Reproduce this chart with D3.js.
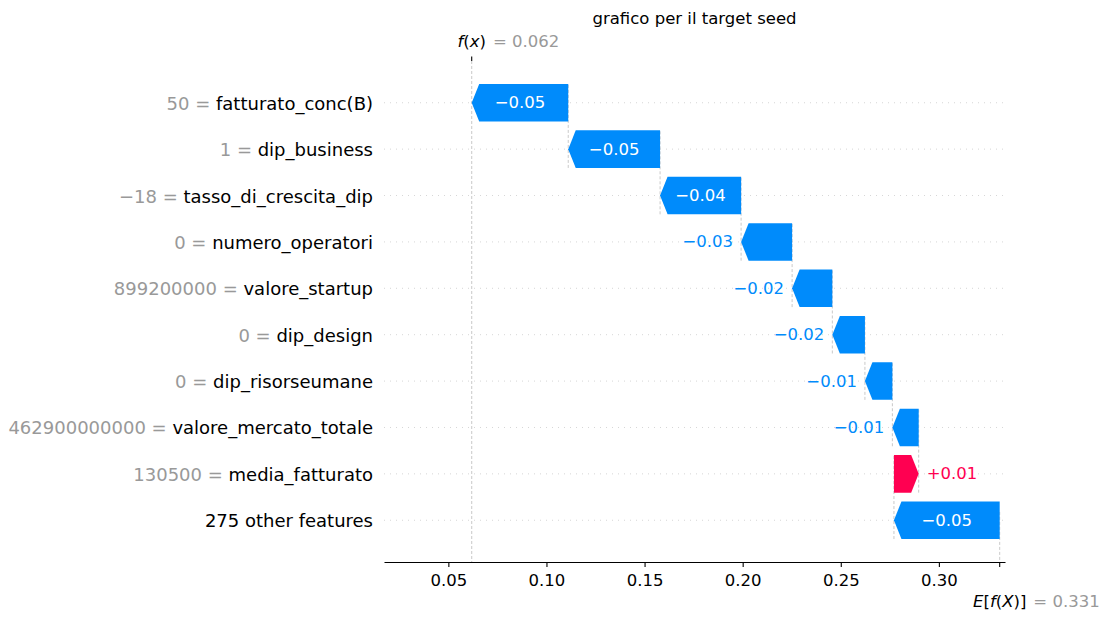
<!DOCTYPE html>
<html>
<head>
<meta charset="utf-8">
<script src="https://d3js.org/d3.v7.min.js"></script>
<style>
body { margin: 0; background: #fff; }
text { font-family: "DejaVu Sans", sans-serif; }
</style>
</head>
<body>
<svg id="chart" width="1107" height="622"></svg>
<script>
// waterfall data, top row first
var featureNames = ["fatturato_conc(B)", "dip_business", "tasso_di_crescita_dip", "numero_operatori",
  "valore_startup", "dip_design", "dip_risorseumane", "valore_mercato_totale", "media_fatturato", "275 other features"];
var featureValues = ["50", "1", "\u221218", "0", "899200000", "0", "0", "462900000000", "130500", ""];
var shapValues = [-0.0492, -0.0468, -0.0413, -0.0260, -0.0205, -0.0166, -0.0140, -0.0134, 0.0126, -0.0539];
var baseValue = 0.331;
var xTicks = [0.05, 0.10, 0.15, 0.20, 0.25, 0.30];
var chartTitle = "grafico per il target seed";

var blue = "#008bfb", red = "#ff0051", grey = "#999999";

var svg = d3.select("#chart");
var n = featureNames.length;

// x limits of the axis as matplotlib left them
var x = d3.scaleLinear().domain([0.0172, 0.3337]).range([384, 1005]);
var y = d3.scaleLinear().domain([-0.9, n - 0.1]).range([61, 562]);
var step = y(1) - y(0);
var barH = step * 0.81;
var axisTop = y(-0.9), axisBottom = y(n - 0.1);

// running totals, from the base value at the bottom upward
var starts = new Array(n), ends = new Array(n);
var run = baseValue;
for (var i = n - 1; i >= 0; i--) {
  starts[i] = run;
  run = run + shapValues[i];
  ends[i] = run;
}
var fx = run;

// dotted row lines
for (var i = 0; i < n; i++) {
  svg.append("line")
    .attr("x1", x.range()[0]).attr("x2", x.range()[1])
    .attr("y1", y(i)).attr("y2", y(i))
    .attr("stroke", "#cccccc").attr("stroke-width", 0.8)
    .attr("stroke-dasharray", "1,5");
}

// dashed connectors
function dashed(xv, y1, y2) {
  svg.append("line")
    .attr("x1", x(xv)).attr("x2", x(xv))
    .attr("y1", y1).attr("y2", y2)
    .attr("stroke", "#bbbbbb").attr("stroke-width", 0.8)
    .attr("stroke-dasharray", "3,2");
}
dashed(fx, axisTop, axisBottom);
dashed(baseValue, axisBottom - (axisBottom - axisTop) / n, axisBottom);
for (var i = 0; i < n - 1; i++) {
  dashed(starts[i], y(i + 1) + barH / 2, y(i) - barH / 2);
}

// arrow bars
function arrowPath(s, e, yc) {
  var xs = x(s), xe = x(e);
  var dir = xe > xs ? 1 : -1;
  var hl = Math.min(7.5, Math.abs(xe - xs));
  var t = yc - barH / 2, b = yc + barH / 2;
  return "M" + xs + "," + t + "L" + (xe - dir * hl) + "," + t + "L" + xe + "," + yc +
    "L" + (xe - dir * hl) + "," + b + "L" + xs + "," + b + "Z";
}
var fmt = function(v) {
  return (v < 0 ? "\u2212" : "+") + d3.format(".2f")(Math.abs(v));
};

for (var i = 0; i < n; i++) {
  var col = shapValues[i] < 0 ? blue : red;
  svg.append("path")
    .attr("d", arrowPath(starts[i], ends[i], y(i)))
    .attr("fill", col);

  var label = svg.append("text")
    .attr("y", y(i) + 5.5)
    .attr("font-size", "16.5px")
    .text(fmt(shapValues[i]));
  var tw = label.node().getComputedTextLength();
  var bw = Math.abs(x(ends[i]) - x(starts[i]));
  if (tw + 12 < bw) {
    label.attr("x", (x(starts[i]) + x(ends[i])) / 2).attr("text-anchor", "middle").attr("fill", "#fff");
  } else if (shapValues[i] < 0) {
    label.attr("x", x(ends[i]) - 8).attr("text-anchor", "end").attr("fill", col);
  } else {
    label.attr("x", x(ends[i]) + 8).attr("text-anchor", "start").attr("fill", col);
  }
}

// feature labels
for (var i = 0; i < n; i++) {
  var t = svg.append("text")
    .attr("x", 373).attr("y", y(i) + 7)
    .attr("text-anchor", "end")
    .attr("font-size", "18px");
  if (featureValues[i] !== "") {
    t.append("tspan").attr("fill", grey).text(featureValues[i] + " = ");
  }
  t.append("tspan").attr("fill", "#000").text(featureNames[i]);
}

// bottom axis
var xAxis = d3.axisBottom(x).tickValues(xTicks).tickFormat(d3.format(".2f")).tickSize(5).tickSizeOuter(0);
var gx = svg.append("g").attr("transform", "translate(0," + axisBottom + ")").call(xAxis);
gx.select(".domain").attr("stroke", "#000").attr("stroke-width", 1.1);
gx.selectAll(".tick line").attr("stroke", "#000").attr("stroke-width", 1.1);
gx.selectAll(".tick text").attr("font-size", "16.5px").attr("fill", "#000")
  .attr("font-family", "DejaVu Sans").attr("dy", null).attr("y", 24);

// base value tick and label
svg.append("line").attr("x1", x(baseValue)).attr("x2", x(baseValue))
  .attr("y1", axisBottom).attr("y2", axisBottom + 5).attr("stroke", "#000").attr("stroke-width", 1.1);
function mathLabel(parts, xv, yb, valueText) {
  var t = svg.append("text").attr("x", x(xv)).attr("y", yb)
    .attr("text-anchor", "middle").attr("font-size", "16.5px").attr("fill", "#000");
  parts.forEach(function(p) {
    t.append("tspan").attr("font-style", p[1] ? "italic" : "normal").text(p[0]);
  });
  var bb = t.node().getBBox();
  svg.append("text").attr("x", bb.x + bb.width + 7).attr("y", yb)
    .attr("font-size", "16.5px").attr("fill", grey).text("= " + valueText);
}
mathLabel([["E", 1], ["[", 0], ["f", 1], ["(", 0], ["X", 1], [")]", 0]], baseValue, 607, d3.format(".3f")(baseValue));

// top tick for f(x)
svg.append("line").attr("x1", x(fx)).attr("x2", x(fx))
  .attr("y1", axisTop).attr("y2", axisTop - 4.5).attr("stroke", "#000").attr("stroke-width", 1.1);
mathLabel([["f", 1], ["(", 0], ["x", 1], [")", 0]], fx, 47, d3.format(".3f")(fx));

// title
svg.append("text").attr("x", (x.range()[0] + x.range()[1]) / 2).attr("y", 24)
  .attr("text-anchor", "middle").attr("font-size", "16.5px").attr("fill", "#000")
  .text(chartTitle);
</script>
</body>
</html>
